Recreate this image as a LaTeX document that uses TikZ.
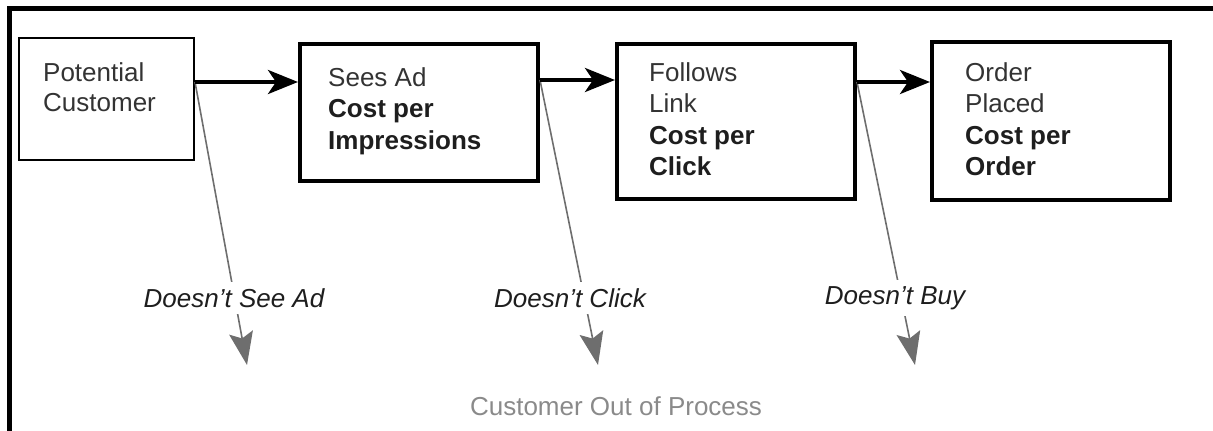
\documentclass[tikz,border=0pt]{standalone}
\usepackage{fontspec}
\setmainfont{Liberation Sans}
\usetikzlibrary{arrows.meta}
\definecolor{boxtext}{HTML}{333333}
\definecolor{boldtext}{HTML}{1E1E1E}
\definecolor{arrowgray}{HTML}{6E6E6E}
\definecolor{outgray}{HTML}{8A8A8A}
\begin{document}
\begin{tikzpicture}[x=1pt,y=-1pt,
  stagebox/.style={draw=black, line width=4pt, inner sep=0pt, minimum width=238pt},
  stagetext/.style={anchor=north west, inner sep=0pt, align=left, text=boxtext,
    font=\fontsize{26pt}{31.5pt}\selectfont},
  flow/.style={line width=4pt, -{Stealth[length=30pt,width=24pt,inset=8pt]}},
  drop/.style={draw=arrowgray, line width=1.6pt, -{Stealth[length=33pt,width=24pt,inset=6pt]}},
  droplabel/.style={fill=white, inner xsep=2pt, inner ysep=6pt, text=boldtext,
    font=\fontsize{26pt}{31pt}\selectfont\itshape}]
\useasboundingbox (0,0) rectangle (1213,431);
% frame (top and left edges)
\draw[line width=5pt] (9.5,431) -- (9.5,8) -- (1213,8);

% boxes
\node[draw=black, line width=2pt, inner sep=0pt, minimum width=175pt, minimum height=122pt] (b1) at (106.5,99) {};
\node[stagebox, minimum height=137pt] (b2) at (419,112.5) {};
\node[stagebox, minimum height=155pt] (b3) at (736,121.5) {};
\node[stagebox, minimum height=158pt] (b4) at (1051,121) {};

% box texts
\node[stagetext, font=\fontsize{26pt}{30pt}\selectfont] (t1) at (43,62) {Potential\\Customer};
\node[stagetext] (t2) at (328,67) {Sees Ad\\\textcolor{boldtext}{\bfseries Cost per}\\\textcolor{boldtext}{\bfseries Impressions}};
\node[stagetext] (t3) at (649,62) {Follows\\Link\\\textcolor{boldtext}{\bfseries Cost per}\\\textcolor{boldtext}{\bfseries Click}};
\node[stagetext] (t4) at (965,62) {Order\\Placed\\\textcolor{boldtext}{\bfseries Cost per}\\\textcolor{boldtext}{\bfseries Order}};

% arrow levels and drop tips
\coordinate (r1) at (0,82);
\coordinate (r2) at (0,80);
\coordinate (r3) at (0,82);
\coordinate (k1) at (247,365);
\coordinate (k2) at (598,365);
\coordinate (k3) at (915,365);

% drop-out arrows
\draw[drop] (b1.east |- r1) -- (k1);
\draw[drop] (b2.east |- r2) -- (k2);
\draw[drop] (b3.east |- r3) -- (k3);

% main flow arrows
\draw[flow] (b1.east |- r1) -- (b2.west |- r1);
\draw[flow] (b2.east |- r2) -- (b3.west |- r2);
\draw[flow] (b3.east |- r3) -- (b4.west |- r3);

% drop labels
\node[droplabel] (l1) at (234,298) {Doesn't See Ad};
\node[droplabel] (l2) at (570,298) {Doesn't Click};
\node[droplabel] (l3) at (895,298) {Doesn't Buy};

\node[text=outgray, inner sep=0pt, font=\fontsize{26pt}{31pt}\selectfont] (out) at (616,406) {Customer Out of Process};
\end{tikzpicture}
\end{document}
